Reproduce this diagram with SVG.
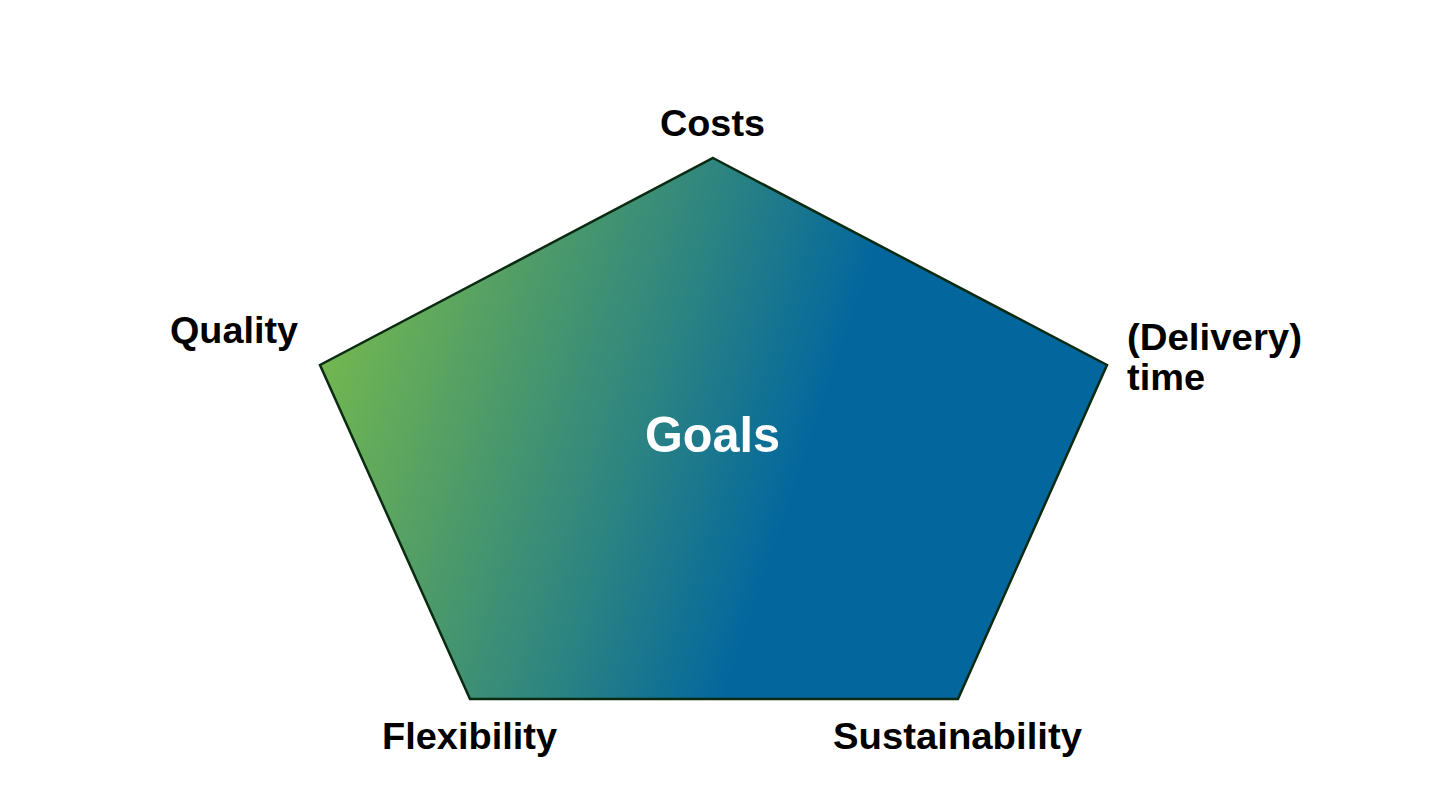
<svg xmlns="http://www.w3.org/2000/svg" width="1437" height="812" viewBox="0 0 1437 812">
<defs>
<linearGradient id="g" gradientUnits="userSpaceOnUse" x1="320" y1="345" x2="790" y2="505">
<stop offset="0" stop-color="#74b84f"/>
<stop offset="0.35" stop-color="#4f9c68"/>
<stop offset="0.65" stop-color="#2e8580"/>
<stop offset="1" stop-color="#03679e"/>
</linearGradient>
<style>
.lbl{font-family:"Liberation Sans",Arial,sans-serif;font-weight:bold;font-size:36px;fill:#000}
.ctr{font-family:"Liberation Sans",Arial,sans-serif;font-weight:bold;font-size:50px;fill:#fff}
</style>
</defs>
<rect width="1437" height="812" fill="#fff"/>
<g id="pentagon">
<polygon points="713,158 1107,365 958,699 470,699 320,365" fill="url(#g)" stroke="#0b2a12" stroke-width="2.5" stroke-linejoin="miter"/>
<text class="ctr" x="645" y="452" textLength="135" lengthAdjust="spacingAndGlyphs">Goals</text>
</g>
<g id="costs"><text class="lbl" x="660" y="136" textLength="105" lengthAdjust="spacingAndGlyphs">Costs</text></g>
<g id="quality"><text class="lbl" x="170" y="343" textLength="128" lengthAdjust="spacingAndGlyphs">Quality</text></g>
<g id="delivery"><text class="lbl" x="1127" y="350" textLength="175" lengthAdjust="spacingAndGlyphs">(Delivery)</text><text class="lbl" x="1127" y="390" textLength="78" lengthAdjust="spacingAndGlyphs">time</text></g>
<g id="flexibility"><text class="lbl" x="382" y="749" textLength="175" lengthAdjust="spacingAndGlyphs">Flexibility</text></g>
<g id="sustainability"><text class="lbl" x="833" y="749" textLength="249" lengthAdjust="spacingAndGlyphs">Sustainability</text></g>
<g id="connectors"></g>
</svg>
